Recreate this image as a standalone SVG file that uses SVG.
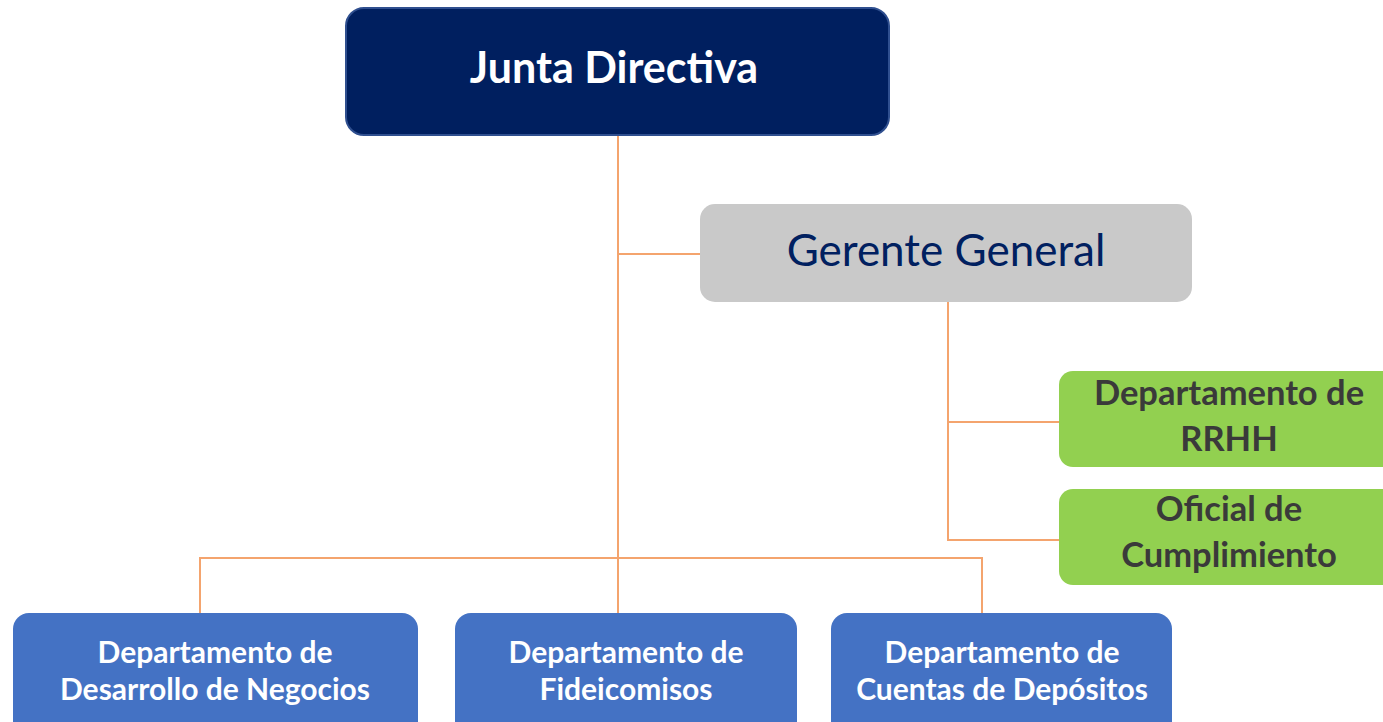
<svg xmlns="http://www.w3.org/2000/svg" width="1383" height="722" viewBox="0 0 1383 722">
<style>
.c{fill:none;stroke:#F4A46E;stroke-width:2}
text{font-family:Lato,"Liberation Sans",sans-serif;text-anchor:middle}
.w{fill:#fff;font-weight:bold}
.blue{fill:#4472C4}
.green{fill:#92D050}
.gt{fill:#3A3A3A;font-weight:bold;font-size:34.5px}
.bt{font-size:30px}
</style>
<rect width="1383" height="722" fill="#fff"/>
<g id="connectors">
<path class="c" d="M618 136V613"/>
<path class="c" d="M618 254H700"/>
<path class="c" d="M948 302V540H1060"/>
<path class="c" d="M948 422H1060"/>
<path class="c" d="M200 613V558H982V613"/>
</g>
<g id="junta">
<rect x="346" y="8" width="543" height="127" rx="18" fill="#001F5F" stroke="#2F4F8F" stroke-width="2"/>
<text x="614" y="83" class="w" font-size="43">Junta Directiva</text>
</g>
<g id="gerente">
<rect x="700" y="204" width="492" height="98" rx="15" fill="#C9C9C9"/>
<text x="946" y="266" fill="#002060" font-size="44">Gerente General</text>
</g>
<g id="rrhh">
<rect x="1059" y="371" width="340" height="96" rx="14" class="green"/>
<text x="1229" y="405" class="gt">Departamento de</text>
<text x="1229" y="451" class="gt">RRHH</text>
</g>
<g id="cumplimiento">
<rect x="1059" y="489" width="340" height="96" rx="14" class="green"/>
<text x="1229" y="521" class="gt">Oficial de</text>
<text x="1229" y="567" class="gt">Cumplimiento</text>
</g>
<g id="negocios">
<rect x="13" y="613" width="405" height="130" rx="16" class="blue"/>
<text x="215" y="663" class="w bt">Departamento de</text>
<text x="215" y="700" class="w bt">Desarrollo de Negocios</text>
</g>
<g id="fideicomisos">
<rect x="455" y="613" width="342" height="130" rx="16" class="blue"/>
<text x="626" y="663" class="w bt">Departamento de</text>
<text x="626" y="700" class="w bt">Fideicomisos</text>
</g>
<g id="depositos">
<rect x="831" y="613" width="341" height="130" rx="16" class="blue"/>
<text x="1002" y="663" class="w bt">Departamento de</text>
<text x="1002" y="700" class="w bt">Cuentas de Depósitos</text>
</g>
</svg>
